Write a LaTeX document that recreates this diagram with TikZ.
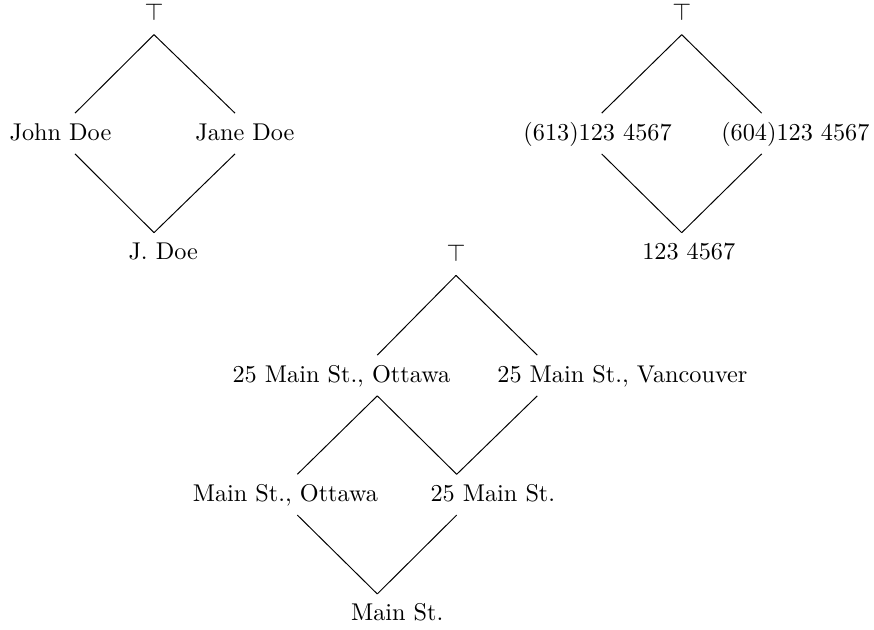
\documentclass[tikz,border=0pt]{standalone}
\usepackage{tikz}

\tikzset{
  elem/.style={inner sep=0pt, minimum width=0pt, minimum height=16.4pt},
  tag/.style={inner sep=0pt, text height=1.5ex, text depth=.25ex}
}

\begin{document}
\begin{tikzpicture}
			%%%%% START %%%%%
			\useasboundingbox (0, 0) rectangle (12.667, -9.116);
			
			% names
			\node[elem, label={[tag]center:$\top$}] (topL) at (2.232, -0.207) {};
			\node[elem, label={[tag, xshift=-6.0pt]center:John Doe}] (john) at (1.087, -1.935) {};
			\node[elem, label={[tag, xshift=4.1pt]center:Jane Doe}] (jane) at (3.406, -1.935) {};
			\node[elem, label={[tag, xshift=3.8pt]center:J. Doe}] (jdoe) at (2.232, -3.667) {};
			\draw (topL.south) -- (john.north);
			\draw (topL.south) -- (jane.north);
			\draw (john.south) -- (jdoe.north);
			\draw (jane.south) -- (jdoe.north);
			
			% phone numbers
			\node[elem, label={[tag]center:$\top$}] (topR) at (9.880, -0.207) {};
			\node[elem, label={[tag, xshift=-1.7pt]center:(613)123 4567}] (ottphone) at (8.720, -1.935) {};
			\node[elem, label={[tag, xshift=13.9pt]center:(604)123 4567}] (vanphone) at (11.039, -1.935) {};
			\node[elem, label={[tag, xshift=2.9pt]center:123 4567}] (phone) at (9.880, -3.667) {};
			\draw (topR.south) -- (ottphone.north);
			\draw (topR.south) -- (vanphone.north);
			\draw (ottphone.south) -- (phone.north);
			\draw (vanphone.south) -- (phone.north);
			
			% addresses
			\node[elem, label={[tag]center:$\top$}] (topM) at (6.609, -3.696) {};
			\node[elem, label={[tag, xshift=-14.8pt]center:25 Main St., Ottawa}] (ottaddr) at (5.468, -5.442) {};
			\node[elem, label={[tag, xshift=35.1pt]center:25 Main St., Vancouver}] (vanaddr) at (7.787, -5.442) {};
			\node[elem, label={[tag, xshift=-4.9pt]center:Main St., Ottawa}] (ottstreet) at (4.309, -7.169) {};
			\node[elem, label={[tag, xshift=14.9pt]center:25 Main St.}] (number) at (6.619, -7.169) {};
			\node[elem, label={[tag, xshift=8.2pt]center:Main St.}] (street) at (5.468, -8.903) {};
			\draw (topM.south) -- (ottaddr.north);
			\draw (topM.south) -- (vanaddr.north);
			\draw (ottaddr.south) -- (ottstreet.north);
			\draw (ottaddr.south) -- (number.north);
			\draw (vanaddr.south) -- (number.north);
			\draw (ottstreet.south) -- (street.north);
			\draw (number.south) -- (street.north);
			
			%%%%% END %%%%%
\end{tikzpicture}
\end{document}
